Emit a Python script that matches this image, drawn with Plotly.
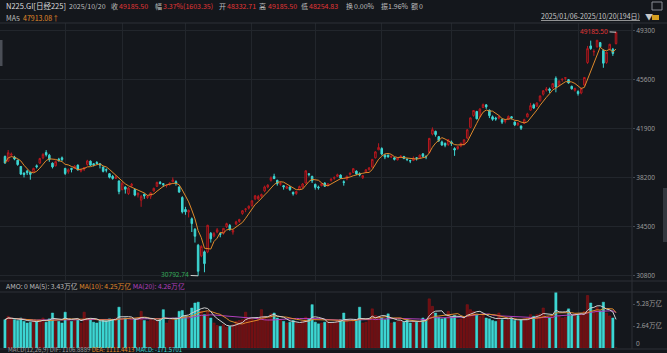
import plotly.graph_objects as go
import pandas as pd

W, H = 667, 353

# ---------------- data ----------------
DAYS_BY_MONTH = {
    1: [6, 7, 8, 9, 10, 14, 15, 16, 17, 20, 21, 22, 23, 24, 27, 28, 29, 30, 31],
    2: [3, 4, 5, 6, 7, 10, 12, 13, 14, 17, 18, 19, 20, 21, 25, 26, 27, 28],
    3: [3, 4, 5, 6, 7, 10, 11, 12, 13, 14, 17, 18, 19, 21, 24, 25, 26, 27, 28, 31],
    4: [1, 2, 3, 4, 7, 8, 9, 10, 11, 14, 15, 16, 17, 18, 21, 22, 23, 24, 25, 28, 30],
    5: [1, 2, 7, 8, 9, 12, 13, 14, 15, 16, 19, 20, 21, 22, 23, 26, 27, 28, 29, 30],
    6: [2, 3, 4, 5, 6, 9, 10, 11, 12, 13, 16, 17, 18, 19, 20, 23, 24, 25, 26, 27, 30],
    7: [1, 2, 3, 4, 7, 8, 9, 10, 11, 14, 15, 16, 17, 18, 22, 23, 24, 25, 28, 29, 30, 31],
    8: [1, 4, 5, 6, 7, 8, 12, 13, 14, 15, 18, 19, 20, 21, 22, 25, 26, 27, 28, 29],
    9: [1, 2, 3, 4, 5, 8, 9, 10, 11, 12, 16, 17, 18, 19, 22, 24, 25, 26, 29, 30],
    10: [1, 2, 3, 6, 7, 8, 9, 10, 14, 15, 16, 17, 20],
}
DATES = [f"2025/{m:02d}/{d:02d}" for m, ds in DAYS_BY_MONTH.items() for d in ds]

OPEN = [
    39800, 39450, 39900, 39750, 39520, 39050, 38550, 38700, 38600, 38650, 39100, 39300, 39700, 40100, 39900, 39300, 39100, 39600, 39700,
    38900, 38650, 38900, 38900, 39150, 38700, 38850, 39200, 39450, 39250, 39350, 39250, 39000, 38800, 38500, 38300, 38150, 37950,
    37300, 37500, 37000, 37600, 37300, 36900, 36500, 36950, 36700, 36800, 37200, 37550, 37850, 37750, 37600, 37700, 37900, 37900, 37500, 36700,
    35800, 35600, 35100, 34300, 33100, 32300, 32600, 32600, 34000, 33800, 34100, 34000, 34000, 34500, 34600, 34100, 34700, 34900, 35500, 35800, 35900,
    36100, 36600, 36600, 36800, 37200, 37500, 38000, 38300, 38000, 37700, 37600, 37400, 37500, 37100, 37000, 37300, 37500, 37800, 38500, 38300,
    37700, 37500, 37600, 37800, 37600, 38000, 38150, 38300, 38400, 37900, 38100, 38450, 38600, 38700, 38500, 38200, 38600, 38800, 39000, 39700, 40300,
    40400, 39900, 39900, 39750, 39700, 39550, 39750, 39800, 39600, 39500, 39500, 39700, 39700, 40000, 39800, 40100, 41500, 41700, 41300, 40900, 40800, 40700,
    40900, 40400, 40400, 40600, 40700, 41200, 42000, 42900, 43200, 42800, 43500, 43700, 43300, 42800, 42700, 42700, 42600, 42450, 42600, 42800,
    42400, 42200, 42100, 42300, 42800, 43300, 43700, 43600, 44000, 44500, 44800, 44900, 45000, 45700, 45200, 45600, 45700, 45600, 45100, 44800,
    44700, 44600, 45200, 46900, 48150, 47700, 48100, 48400, 47800, 46900, 47900, 47900, 48332.71,
]
HIGH = [
    39880, 40288, 40100, 39850, 39560, 39080, 38600, 38800, 38650, 38950, 39200, 39700, 40050, 40280, 40000, 39350, 39500, 39700, 39800,
    38950, 38900, 38950, 39150, 39200, 38850, 39000, 39550, 39500, 39300, 39450, 39300, 39050, 38900, 38550, 38400, 38400, 38000,
    37900, 37550, 37500, 37800, 37350, 37100, 36900, 37000, 36900, 37100, 37450, 37900, 37950, 37800, 37700, 37850, 38220, 38000, 37550, 36800,
    36000, 35800, 35200, 34400, 33200, 33100, 32700, 34639, 34100, 34100, 34400, 34050, 34400, 34800, 34700, 34300, 34950, 35100, 35750, 35900, 36100,
    36500, 36900, 36900, 37000, 37600, 37700, 38300, 38500, 38050, 37900, 37650, 37600, 37550, 37150, 37200, 37600, 37800, 38750, 38550, 38350,
    37750, 37600, 37800, 37850, 37800, 38150, 38300, 38500, 38450, 38000, 38350, 38600, 38900, 38750, 38600, 38400, 38850, 39000, 39600, 40200, 40800,
    40500, 40000, 39950, 39900, 39750, 39750, 39900, 39850, 39650, 39550, 39800, 39750, 39950, 40050, 39900, 41200, 42000, 41750, 41350, 41000, 40850, 41100,
    41000, 40500, 40600, 40850, 41100, 41850, 42750, 43300, 43250, 43450, 43800, 43750, 43350, 42900, 42800, 42900, 42650, 42600, 42900, 42850,
    42450, 42400, 42150, 42650, 43100, 43850, 43800, 43900, 44400, 44800, 45050, 45000, 45350, 45850, 45550, 45700, 45800, 45650, 45150, 45000,
    44800, 45000, 45800, 48150, 48550, 47900, 48600, 48450, 47900, 47700, 48300, 48000, 49185.50,
]
LOW = [
    39250, 39400, 39780, 39520, 39100, 38400, 38220, 38400, 38050, 38600, 38900, 39250, 39600, 39800, 39400, 38900, 39050, 39400, 39450,
    38400, 38500, 38600, 38850, 38750, 38600, 38700, 39100, 39100, 39050, 39200, 38900, 38600, 38600, 38150, 38050, 38100, 36950,
    37250, 37000, 36900, 37500, 36800, 36700, 36000, 36600, 36600, 36600, 37150, 37500, 37700, 37500, 37450, 37600, 37850, 37600, 37050, 35500,
    35400, 35200, 34100, 33300, 30792.74, 32200, 31060, 32500, 33300, 33700, 34000, 33700, 33900, 34400, 34200, 33900, 34600, 34800, 35400, 35600, 35800,
    36000, 36500, 36500, 36700, 37100, 37400, 37900, 38100, 37600, 37600, 37300, 37350, 37200, 36850, 36900, 37250, 37400, 37750, 38300, 37800,
    37300, 37300, 37550, 37500, 37550, 37900, 38050, 38250, 38100, 37600, 38000, 38350, 38550, 38400, 38300, 38100, 38550, 38750, 38950, 39650, 40300,
    39900, 39600, 39700, 39700, 39500, 39500, 39700, 39600, 39450, 39300, 39450, 39500, 39650, 39750, 39600, 40050, 41400, 41300, 40900, 40600, 40500, 40600,
    40600, 39850, 40300, 40500, 40650, 41100, 41950, 42800, 42600, 42750, 43450, 43400, 42700, 42500, 42500, 42600, 42250, 42300, 42550, 42600,
    42100, 42100, 41800, 42250, 42750, 43250, 43400, 43550, 43950, 44400, 44700, 44600, 44900, 44650, 45100, 45450, 45550, 45300, 44850, 44700,
    44400, 44500, 45100, 46800, 47850, 47400, 48000, 48000, 46500, 46800, 47800, 47400, 48254.83,
]
CLOSE = [
    39307.05, 40083.30, 39981.06, 39605.09, 39190.40, 38474.30, 38444.58, 38572.60, 38451.46, 38902.50, 39027.98, 39646.25, 39958.87, 39931.98, 39565.80, 39016.87, 39414.78, 39513.97, 39572.49,
    38520.09, 38798.37, 38831.48, 39066.53, 38787.02, 38801.17, 38963.70, 39461.47, 39149.43, 39174.25, 39270.40, 39164.61, 38678.04, 38776.94, 38237.79, 38142.37, 38256.17, 37155.50,
    37785.47, 37331.18, 37418.24, 37704.93, 36887.17, 37028.27, 36793.11, 36819.09, 36790.03, 37053.10, 37396.52, 37845.42, 37751.88, 37677.06, 37608.49, 37780.54, 38027.29, 37799.97, 37120.33, 35617.56,
    35624.48, 35725.87, 34735.93, 33780.58, 31136.58, 33012.58, 31714.03, 34609.00, 33585.58, 33982.36, 34267.54, 33920.40, 34377.60, 34730.28, 34279.92, 34220.60, 34868.63, 35039.15, 35705.74, 35839.99, 36045.38,
    36452.30, 36830.69, 36779.66, 36928.63, 37503.33, 37644.26, 38183.26, 38128.13, 37755.51, 37753.72, 37498.63, 37529.49, 37299.17, 36985.87, 37160.47, 37531.53, 37724.11, 38722.40, 38432.98, 37965.10,
    37470.67, 37446.81, 37747.45, 37554.49, 37741.61, 38088.57, 38211.51, 38421.19, 38173.09, 37834.25, 38311.33, 38536.74, 38885.15, 38488.34, 38403.23, 38354.09, 38790.56, 38942.07, 39584.58, 40150.79, 40487.39,
    39986.33, 39762.48, 39785.90, 39810.88, 39587.68, 39688.81, 39821.28, 39646.36, 39569.68, 39459.62, 39678.02, 39663.40, 39901.19, 39819.11, 39774.92, 41171.32, 41826.34, 41456.23, 40998.27, 40674.55, 40654.70, 41069.82,
    40799.60, 40290.70, 40549.54, 40794.86, 41059.15, 41820.48, 42718.17, 43274.67, 42649.26, 43378.31, 43714.31, 43546.29, 42888.55, 42610.17, 42633.29, 42807.82, 42394.40, 42520.27, 42828.79, 42718.47,
    42188.79, 42310.49, 41938.89, 42580.27, 43018.75, 43643.81, 43459.29, 43837.67, 44372.50, 44768.12, 44902.27, 44790.38, 45303.43, 45045.81, 45493.66, 45630.31, 45754.93, 45354.99, 44913.00, 44932.63,
    44550.85, 44936.73, 45769.50, 47944.76, 47950.88, 47734.99, 48580.44, 48088.80, 46847.32, 47672.67, 48277.74, 47582.15, 49185.50,
]
# turnover (AMO), unit: 万亿
AMO = [
    3.4, 3.8, 3.5, 3.4, 3.3, 3.6, 3.2, 3.0, 3.1, 3.3, 3.2, 3.4, 3.6, 3.1, 3.5, 4.2, 3.3, 3.2, 3.0,
    4.3, 3.5, 3.2, 3.3, 3.4, 3.0, 4.3, 3.6, 3.5, 3.1, 3.0, 3.2, 3.4, 3.3, 3.5, 3.4, 3.6, 4.9,
    3.4, 3.6, 3.3, 3.4, 3.5, 3.6, 4.4, 3.3, 3.2, 3.4, 3.3, 3.2, 3.5, 4.6, 3.0, 3.3, 3.4, 3.6, 4.4, 4.5,
    3.8, 3.5, 4.8, 5.4, 5.5, 4.4, 4.0, 4.4, 3.6, 3.0, 2.7, 2.6, 2.8, 2.5, 2.6, 2.8, 3.2, 3.3, 3.4, 4.3, 3.6,
    3.5, 3.3, 3.6, 4.6, 3.8, 3.5, 4.1, 4.2, 3.6, 3.4, 3.2, 3.0, 3.1, 3.3, 3.0, 2.9, 3.2, 3.7, 3.5, 5.2,
    3.1, 2.9, 3.0, 3.1, 3.2, 3.0, 3.1, 3.3, 3.4, 4.2, 3.3, 3.1, 3.2, 3.3, 4.9, 3.0, 3.1, 3.4, 4.7, 3.9, 3.8,
    3.6, 3.4, 4.1, 3.0, 3.1, 3.2, 3.3, 3.1, 3.4, 3.0, 3.2, 3.1, 3.3, 3.6, 3.4, 5.9, 5.0, 4.2, 3.7, 3.5, 3.6, 4.4,
    3.7, 3.9, 3.4, 3.5, 3.6, 5.2, 4.6, 4.4, 4.0, 3.8, 4.1, 3.6, 3.5, 3.3, 3.2, 4.2, 3.4, 3.3, 3.5, 3.6,
    3.3, 3.2, 3.4, 3.5, 3.6, 4.0, 3.8, 4.0, 4.1, 4.8, 3.7, 3.6, 3.9, 6.7, 3.8, 3.6, 3.7, 4.7, 3.9, 4.0,
    3.9, 4.0, 4.4, 6.3, 5.4, 4.3, 4.9, 4.45, 5.5, 4.2, 3.85, 3.6, 0,
]

PRICE_TICKS = [30800, 34500, 38200, 41900, 45600, 49300]
AMO_TICKS = [2.64, 5.28]
AMO_TICK_TEXT = ["2.64万亿", "5.28万亿"]
MACD_TEXT = ["MACD(12,26,9) DIF: 1106.8889", "DEA: 1111.4413", "MACD: -171.5701"]

# ---------------- styles ----------------
BG = "#14171c"
GRID = "#22262c"
SEP = "#2c3037"
RED = "#b8191f"
RED_FILL = "#2a0d10"
RED_BAR = "#6d0f12"
CYAN = "#3dd6d3"
ORANGE = "#e0892a"
MAG = "#b13fbd"
WHITE_MA = "#cfcfcf"
TXT = "#bdbdbd"
LBL = "#9a9a9a"
RED_TXT = "#e03535"
GREEN_TXT = "#35a85a"
FONT = "Noto Sans CJK SC, Noto Sans, sans-serif"


def px(x):
    return x / W


def py(y):
    return 1 - y / H


n = len(CLOSE)
idx = list(range(n))
close_s = pd.Series(CLOSE)
amo_s = pd.Series(AMO)
ma5 = close_s.rolling(5, min_periods=1).mean()
vma5 = amo_s.rolling(5, min_periods=1).mean()
vma10 = amo_s.rolling(10, min_periods=1).mean()
vma20 = amo_s.rolling(20, min_periods=1).mean()

up = [c >= o for o, c in zip(OPEN, CLOSE)]
bar_fill = [RED_BAR if u else CYAN for u in up]
bar_line = ["#8e161b" if u else CYAN for u in up]

month_starts = [i for i in range(1, n) if DATES[i][5:7] != DATES[i - 1][5:7]]

STEP = 3.166
X0 = 5
x_range = [-X0 / STEP, (n - 1) + (632 - (X0 + STEP * (n - 1))) / STEP]

fig = go.Figure()
fig.add_trace(go.Candlestick(
    x=idx, open=OPEN, high=HIGH, low=LOW, close=CLOSE,
    increasing=dict(line=dict(color=RED, width=1), fillcolor=RED_FILL),
    decreasing=dict(line=dict(color=CYAN, width=1), fillcolor=CYAN),
    whiskerwidth=0, xaxis="x", yaxis="y", hoverinfo="skip",
))
fig.add_trace(go.Scatter(x=idx, y=ma5, mode="lines", line=dict(color=ORANGE, width=1),
                         xaxis="x", yaxis="y", hoverinfo="skip"))
fig.add_trace(go.Bar(x=idx, y=AMO, marker=dict(color=bar_fill, line=dict(color=bar_line, width=0.5)),
                     width=0.72, xaxis="x2", yaxis="y2", hoverinfo="skip"))
for s, c in [(vma20, MAG), (vma10, ORANGE), (vma5, WHITE_MA)]:
    fig.add_trace(go.Scatter(x=idx, y=s, mode="lines", line=dict(color=c, width=1),
                             xaxis="x2", yaxis="y2", hoverinfo="skip"))

xdom = [0, px(632)]
axis_common = dict(domain=xdom, range=x_range, tickvals=month_starts, showticklabels=False,
                   showgrid=True, gridcolor=GRID, gridwidth=1, zeroline=False, showline=False, ticks="")
fig.update_layout(
    width=W, height=H, margin=dict(l=0, r=0, t=0, b=0),
    paper_bgcolor=BG, plot_bgcolor=BG, showlegend=False, bargap=0.25,
    font=dict(family=FONT, size=7, color=TXT),
    xaxis=dict(anchor="y", rangeslider=dict(visible=False), **axis_common),
    xaxis2=dict(anchor="y2", matches="x", **axis_common),
    yaxis=dict(domain=[py(281), py(23)], range=[30400, 49881], side="right", anchor="x",
               tickvals=PRICE_TICKS, ticktext=[str(t) for t in PRICE_TICKS],
               tickfont=dict(size=6.5, color=LBL, family="Noto Sans"), ticks="outside", ticklen=2,
               tickcolor="#444a52", showgrid=True, gridcolor=GRID, zeroline=False, showline=False),
    yaxis2=dict(domain=[py(348), py(292)], range=[0, 6.72], side="right", anchor="x2",
                tickvals=AMO_TICKS, ticktext=AMO_TICK_TEXT,
                tickfont=dict(size=6.5, color=LBL, family=FONT), ticks="outside", ticklen=2,
                tickcolor="#444a52", showgrid=False, zeroline=False, showline=False),
)

# separators / frame lines
shapes = []
for y in [23, 281, 292, 349]:
    shapes.append(dict(type="line", xref="paper", yref="paper", x0=0, x1=px(667), y0=py(y), y1=py(y),
                       line=dict(color=SEP, width=1)))
shapes.append(dict(type="line", xref="paper", yref="paper", x0=px(632), x1=px(632), y0=py(349), y1=py(23),
                   line=dict(color=SEP, width=1)))
# side UI bits
shapes.append(dict(type="rect", xref="paper", yref="paper", x0=0, x1=px(2.5), y0=py(66), y1=py(40),
                   fillcolor="#4a4e56", line=dict(width=0)))
shapes.append(dict(type="rect", xref="paper", yref="paper", x0=px(663), x1=px(667), y0=py(242), y1=py(188),
                   fillcolor="#33373e", line=dict(width=0)))
shapes.append(dict(type="rect", xref="paper", yref="paper", x0=px(652), x1=px(662), y0=py(10), y1=py(2),
                   fillcolor="rgba(0,0,0,0)", line=dict(color="#8a8e95", width=1)))
shapes.append(dict(type="rect", xref="paper", yref="paper", x0=px(652), x1=px(659), y0=py(20), y1=py(15),
                   fillcolor="#d8a020", line=dict(width=0)))
fig.update_layout(shapes=shapes)

ann = []


def t(x, y, text, color=TXT, size=7, anchor="left", family=FONT):
    ann.append(dict(xref="paper", yref="paper", x=px(x), y=py(y), text=text, showarrow=False,
                    xanchor=anchor, yanchor="middle", font=dict(color=color, size=size, family=family)))


last_c, prev_c = CLOSE[-1], CLOSE[-2]
chg = last_c - prev_c
pct = chg / prev_c * 100
amp = (HIGH[-1] - LOW[-1]) / prev_c * 100

t(4, 6, "N225.GI[日经225]", "#dcdcdc", size=7.5)
t(67, 6, DATES[-1], TXT)
t(109, 6, "收", TXT)
t(117, 6, f"{last_c:.2f}", RED_TXT)
t(153, 6, "幅", TXT)
t(161, 6, f"{pct:.2f}%({chg:.2f})", RED_TXT)
t(217, 6, "开", TXT)
t(225, 6, f"{OPEN[-1]:.2f}", RED_TXT)
t(257, 6, "高", TXT)
t(266, 6, f"{HIGH[-1]:.2f}", RED_TXT)
t(299, 6, "低", TXT)
t(307, 6, f"{LOW[-1]:.2f}", RED_TXT)
t(344, 6, "换", TXT)
t(352, 6, "0.00%", TXT)
t(379, 6, "振", TXT)
t(386, 6, f"{amp:.2f}%", TXT)
t(409, 6, "额", TXT)
t(417, 6, f"{AMO[-1]:g}", TXT)

arrow = "↑" if ma5.iloc[-1] >= ma5.iloc[-2] else "↓"
t(4, 17.5, "MA5", TXT)
t(21, 17.5, f"{ma5.iloc[-1]:.2f}{arrow}", ORANGE)

t(642, 16, f"<u>{DATES[0]}-{DATES[-1]}({n}日)</u>", "#c8c8c8", anchor="right")
t(643, 16, "▼", "#c8c8c8", size=8)

t(4, 285.5,
  f"AMO: {AMO[-1]:g} MA(5): {vma5.iloc[-1]:.2f}万亿 "
  f"<span style='color:{ORANGE}'>MA(10): {vma10.iloc[-1]:.2f}万亿</span> "
  f"<span style='color:{MAG}'>MA(20): {vma20.iloc[-1]:.2f}万亿</span>", TXT, size=6.8)
t(634, 343, "0", LBL, size=6.5, family="Noto Sans")

t(6, 349.5,
  f"{MACD_TEXT[0]} <span style='color:{ORANGE}'>{MACD_TEXT[1]}</span> "
  f"<span style='color:{CYAN}'>{MACD_TEXT[2]}</span>", "#9a9a9a", size=6)

# high / low markers
hi_i = max(range(n), key=lambda i: HIGH[i])
lo_i = min(range(n), key=lambda i: LOW[i])
ann.append(dict(x=hi_i, y=HIGH[hi_i], xref="x", yref="y", text=f"{HIGH[hi_i]:.2f}", showarrow=True,
                arrowhead=0, arrowwidth=1, arrowcolor="#d0d0d0", ax=-22, ay=-1,
                font=dict(color=RED_TXT, size=6.5, family="Noto Sans")))
ann.append(dict(x=lo_i, y=LOW[lo_i], xref="x", yref="y", text=f"{LOW[lo_i]:.2f}", showarrow=True,
                arrowhead=0, arrowwidth=1, arrowcolor="#d0d0d0", ax=-23, ay=-1,
                font=dict(color=GREEN_TXT, size=6.5, family="Noto Sans")))

fig.update_layout(annotations=ann)
fig.write_html("out.html")
